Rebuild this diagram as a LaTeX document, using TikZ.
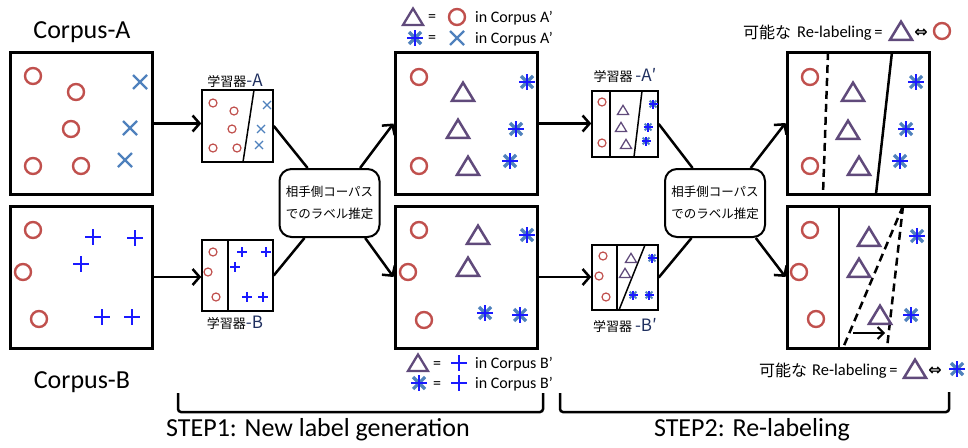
\documentclass[tikz,border=0pt]{standalone}
\usepackage{fontspec}
\setmainfont{Carlito}
\newfontfamily\jp{Noto Sans CJK JP}
\newfontfamily\djv{DejaVu Sans}
\usetikzlibrary{arrows.meta,calc}
\definecolor{cred}{HTML}{C0504D}
\definecolor{csteel}{HTML}{4F81BD}
\definecolor{cblue}{HTML}{1A1AFF}
\definecolor{cpurp}{HTML}{604A7B}
\definecolor{cnavy}{HTML}{1F2F5F}
\newcommand{\latl}[1]{\textcolor{cnavy}{\fontsize{17}{17}\selectfont #1}}
\tikzset{
  circ/.pic={\draw[cred,line width=#1*0.3pt] (0,0) circle[radius=#1pt];},
  xmk/.pic={\draw[csteel,line width=#1*0.33pt] (-#1,-#1)--(#1,#1) (-#1,#1)--(#1,-#1);},
  plusmk/.pic={\draw[cblue,line width=#1*0.3pt] (-#1,0)--(#1,0) (0,-#1)--(0,#1);},
  tri/.pic={\draw[cpurp,line width=#1*0.23pt,line join=miter] (-#1,0.8*#1)--(#1,0.8*#1)--(0,-0.85*#1)--cycle;},
  ast/.pic={\draw[csteel,line width=#1*0.4pt] (-0.75*#1,-0.75*#1)--(0.75*#1,0.75*#1) (-0.75*#1,0.75*#1)--(0.75*#1,-0.75*#1);
            \draw[cblue,line width=#1*0.34pt] (-#1,0)--(#1,0) (0,-#1)--(0,#1);},
  bigbox/.style={draw,line width=3pt,minimum width=142pt,minimum height=142pt,inner sep=0pt},
  lbox/.style={draw,line width=1.5pt,inner sep=0pt},
  est/.style={draw,line width=2pt,rounded corners=12pt,minimum width=100pt,minimum height=68pt,align=center,inner sep=0pt,font=\jp\fontsize{12.5}{22}\selectfont},
  conn/.style={line width=2.5pt},
  arr/.style={line width=2.5pt,-{Straight Barb[length=7pt,width=16pt,line width=2.5pt]}},
  ttl/.style={font=\fontsize{26}{26}\selectfont,inner sep=0pt},
  lgd/.style={font=\fontsize{16}{16}\selectfont,inner sep=0pt,anchor=west},
  lbl/.style={font=\jp\fontsize{13}{13}\selectfont,inner sep=0pt},
  rl/.style={font=\fontsize{16.5}{16.5}\selectfont,inner sep=0pt,anchor=west},
  iff/.style={inner sep=0pt,font=\djv\bfseries\fontsize{16}{16}\selectfont},
}
\begin{document}
\begin{tikzpicture}[x=1pt,y=-1pt]
\useasboundingbox (0,0) rectangle (968,447);
% titles
\node[ttl] (tA) at (82,32) {Corpus-A};
\node[ttl] (tB) at (82,382) {Corpus-B};
% big boxes
\node[bigbox] (A) at (81.5,123.5) {};
\node[bigbox] (B) at (81.5,277) {};
\node[bigbox] (Ap) at (466,123.5) {};
\node[bigbox] (Bp) at (466,277) {};
\node[bigbox] (App) at (858,123) {};
\node[bigbox] (Bpp) at (858,277) {};
% learner boxes
\node[lbox,minimum width=71pt,minimum height=72pt] (lA) at (237.5,126) {};
\node[lbox,minimum width=71pt,minimum height=71pt] (lB) at (237.5,275.5) {};
\node[lbox,minimum width=66pt,minimum height=66pt] (lAp) at (625,124) {};
\node[lbox,minimum width=66pt,minimum height=65pt] (lBp) at (625,277.5) {};
\node[lbl] (lAl) at (235,81) {学習器\latl{-A}};
\node[lbl] (lBl) at (235,323) {学習器\latl{-B}};
\node[lbl] (lApl) at (625,75) {学習器 \latl{-A{\jp ′}}};
\node[lbl] (lBpl) at (625,325) {学習器 \latl{-B{\jp ′}}};
% estimation boxes
\node[est] (e1) at (329.5,203) {相手側コーパス\\でのラベル推定};
\node[est] (e2) at (715,203) {相手側コーパス\\でのラベル推定};
% connectors
\draw[arr] (A.east) -- (A.east -| lA.west);
\draw[arr] (B.east) -- (B.east -| lB.west);
\draw[conn] (lA.east) -- ($(e1.north)!0.43!(e1.north west)$);
\draw[conn] (lB.east) -- ($(e1.south)!0.49!(e1.south west)$);
\draw[arr] ($(e1.north)!0.6!(e1.north east)$) -- (Ap.west);
\draw[arr] ($(e1.south)!0.7!(e1.south east)$) -- (Bp.west);
\draw[arr] (Ap.east) -- (Ap.east -| lAp.west);
\draw[arr] (Bp.east) -- (Bp.east -| lBp.west);
\draw[conn] (lAp.east) -- ($(e2.north)!0.44!(e2.north west)$);
\draw[conn] (lBp.east) -- ($(e2.south)!0.46!(e2.south west)$);
\draw[arr] ($(e2.north)!0.7!(e2.north east)$) -- (App.west);
\draw[arr] ($(e2.south)!0.8!(e2.south east)$) -- (Bpp.west);
% dividers
\draw[line width=1.5pt] (254,90) -- (243,162);
\draw[line width=1.5pt] (228,240) -- (228,311);
\draw[line width=1.5pt] (610,91) -- (610,157);
\draw[line width=1.5pt] (642,91) -- (634,157);
\draw[line width=1.5pt] (617,245) -- (617,310);
\draw[line width=1.5pt] (645,245) -- (619,310);
\draw[line width=2.5pt,dash pattern=on 8pt off 5pt] (828,52) -- (823,194);
\draw[line width=2.5pt] (892,52) -- (876,194);
\draw[line width=2.5pt] (839,206) -- (839,348);
\draw[line width=2.5pt,dash pattern=on 8pt off 5pt] (903,206) -- (843,348);
\draw[line width=2.5pt,dash pattern=on 8pt off 5pt] (903,206) -- (887,348);
\draw[line width=2pt,-{Straight Barb[length=6pt,width=12pt,line width=2pt]}] (853,333) -- (885,333);
% marks: corpus A
\foreach \p in {(33,76),(76,92),(71,129),(33,166),(81,166)} \pic at \p {circ=8};
\foreach \p in {(140,82),(130,128),(125,160)} \pic at \p {xmk=7};
% corpus B
\foreach \p in {(33,230),(23,272),(39,319)} \pic at \p {circ=8};
\foreach \p in {(93,237),(135,238),(81,264),(102,317),(132,317)} \pic at \p {plusmk=8};
% learner A
\foreach \p in {(213,103),(234,111),(232,129),(213,148),(237,148)} \pic at \p {circ=4};
\foreach \p in {(267,105),(261,129),(259,145)} \pic at \p {xmk=4};
% learner B
\foreach \p in {(213,252),(208,272),(216,297)} \pic at \p {circ=4};
\foreach \p in {(242,252),(266,252),(235,267),(247,297),(263,297)} \pic at \p {plusmk=5};
% A'
\foreach \p in {(419,77),(419,166)} \pic at \p {circ=8};
\foreach \p in {(463,92),(458,129),(468,166)} \pic at \p {tri=11};
\foreach \p in {(527,82),(516,129),(510,161)} \pic at \p {ast=8};
% B'
\foreach \p in {(419,230),(408,272),(424,320)} \pic at \p {circ=8};
\foreach \p in {(478,235),(468,267)} \pic at \p {tri=11};
\foreach \p in {(527,235),(485,313),(520,315)} \pic at \p {ast=8};
% learner A'
\foreach \p in {(602,102),(602,143)} \pic at \p {circ=4};
\foreach \p in {(623,110),(621,127),(626,144)} \pic at \p {tri=5.5};
\foreach \p in {(653,104),(648,127),(646,141)} \pic at \p {ast=4.5};
% learner B'
\foreach \p in {(603,256),(599,276),(606,297)} \pic at \p {circ=4};
\foreach \p in {(631,258),(625,273)} \pic at \p {tri=5.5};
\foreach \p in {(652,258),(633,295),(649,295)} \pic at \p {ast=4.5};
% A''
\foreach \p in {(810,77),(810,166)} \pic at \p {circ=8};
\foreach \p in {(853,92),(848,130),(859,166)} \pic at \p {tri=11};
\foreach \p in {(916,82),(906,129),(900,161)} \pic at \p {ast=8};
% B''
\foreach \p in {(810,230),(799,272),(816,319)} \pic at \p {circ=8};
\foreach \p in {(869,237),(859,268),(880,315)} \pic at \p {tri=11};
\foreach \p in {(917,236),(911,315)} \pic at \p {ast=8};
% legends A'
\pic at (413,17) {tri=10};
\node[lgd] (eq1) at (428,18) {=};
\pic at (457,17) {circ=8};
\node[lgd] (lg1) at (475,18) {in Corpus A’};
\pic at (415,38) {ast=8};
\node[lgd] (eq2) at (428,39) {=};
\pic at (457,38) {xmk=7};
\node[lgd] (lg2) at (475,39) {in Corpus A’};
% legends B'
\pic at (418,363) {tri=10};
\node[lgd] (eq3) at (433,365) {=};
\pic at (459,363) {plusmk=8};
\node[lgd] (lg3) at (475,364) {in Corpus B’};
\pic at (419,383) {ast=8};
\node[lgd] (eq4) at (433,385) {=};
\pic at (459,383) {plusmk=8};
\node[lgd] (lg4) at (475,384) {in Corpus B’};
% relabeling labels
\node[rl,font=\jp\fontsize{16}{16}\selectfont] (rj1) at (743,32) {可能な};
\node[rl] (rt1) at (797,33) {Re-labeling\,=};
\pic at (901,31) {tri=11};
\node[iff] (rs1) at (921,33) {⇔};
\pic at (942,31) {circ=8};
\node[rl,font=\jp\fontsize{16}{16}\selectfont] (rj2) at (759,370) {可能な};
\node[rl] (rt2) at (812,371) {Re-labeling\,=};
\pic at (915,369) {tri=11};
\node[iff] (rs2) at (935,371) {⇔};
\pic at (957,369) {ast=8};
% brackets
\draw[line width=2.5pt,rounded corners=3pt] (178,393) -- (178,412) -- (543,412) -- (543,393);
\draw[line width=2.5pt,rounded corners=3pt] (560,393) -- (560,412) -- (949,412) -- (949,392);
\node[ttl] (s1) at (318,430) {STEP1: New label generation};
\node[ttl] (s2) at (752,430) {STEP2: Re-labeling};
\end{tikzpicture}
\end{document}
